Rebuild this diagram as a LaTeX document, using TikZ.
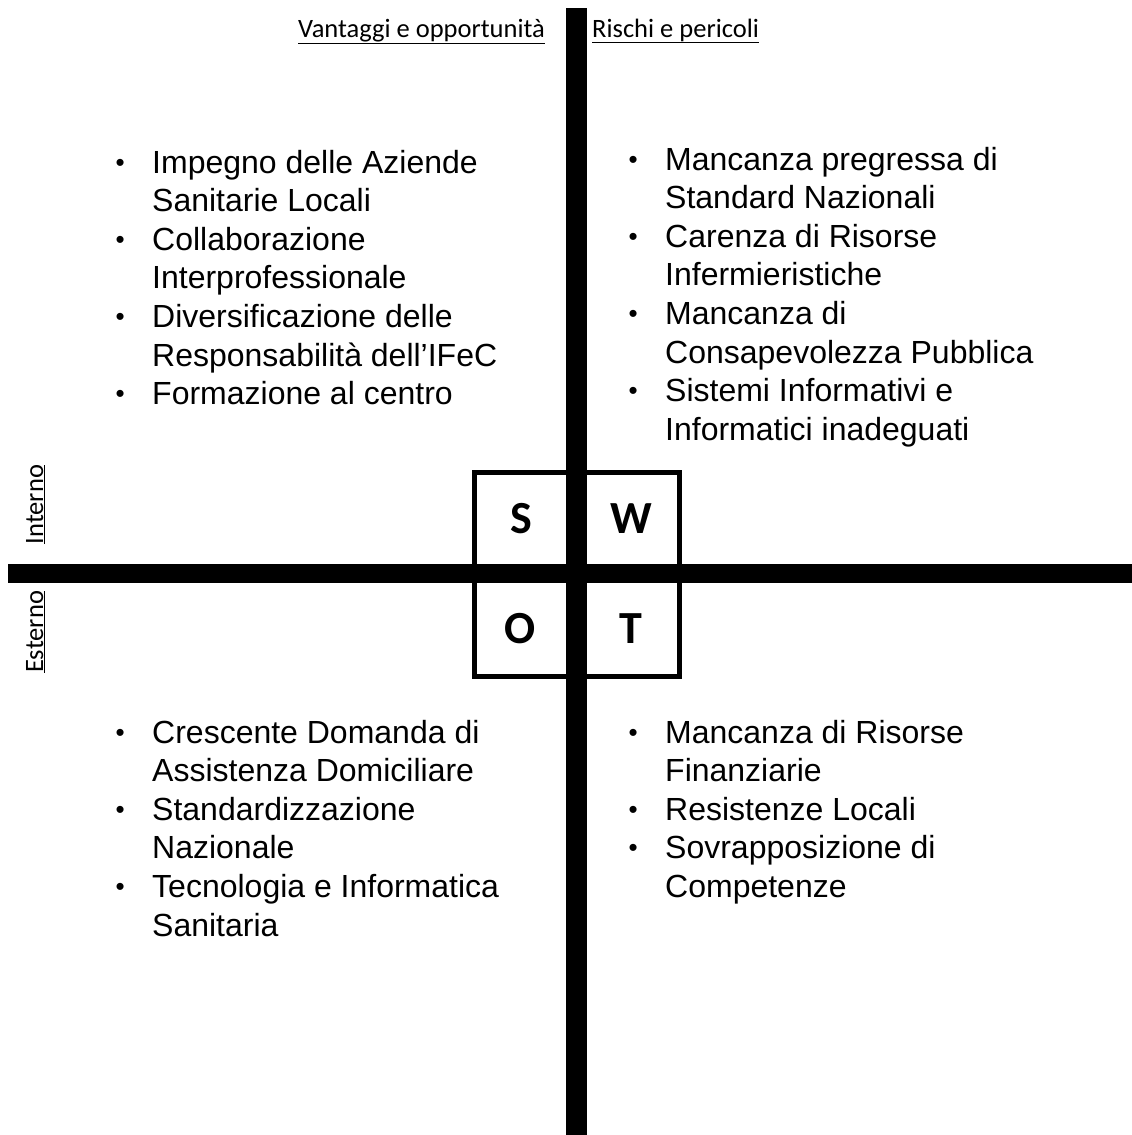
\documentclass[tikz,border=0pt]{standalone}
\usepackage{fontspec}
\setmainfont{Liberation Sans}
\newfontfamily\calibrifont{Carlito}
\usetikzlibrary{positioning}

\tikzset{
    bar/.style={fill=black},
    listtext/.style={inner sep=0pt, anchor=base west, font=\fontsize{32}{38.6}\selectfont},
    heading/.style={inner sep=0pt, anchor=base west, font=\calibrifont\fontsize{26.5}{30}\selectfont},
    sidelabel/.style={inner sep=0pt, anchor=base, rotate=90, font=\calibrifont\fontsize{26.5}{30}\selectfont},
    letter/.style={inner sep=0pt, anchor=base, font=\calibrifont\bfseries\fontsize{46}{50}\selectfont}
}

% small bullet, as in the reference
\newcommand{\bul}{\hspace{1pt}\raisebox{2pt}{\fontsize{26}{26}\selectfont\textbullet}}
% bullet list with hanging indent
\newenvironment{swotlist}{\begin{tabular}[t]{@{}p{37.5pt}@{}l@{}}}{\end{tabular}}

\begin{document}
\begin{tikzpicture}[x=1pt,y=-1pt]
\useasboundingbox (0,0) rectangle (1132,1135);

% Box around the four letters
\draw[line width=5pt] (474,472) rectangle (679,676);

% Cross
\fill[bar] (566,8) rectangle (587,1135);
\fill[bar] (8,564) rectangle (1132,583);

% Letters
\node[letter] (s) at (521,533) {S};
\node[letter] (w) at (631,533) {W};
\node[letter] (o) at (520,643) {O};
\node[letter] (t) at (631,643) {T};

% Headings
\node[heading] (vant) at (298,37) {\underline{Vantaggi e opportunità}};
\node[heading] (risc) at (592,37) {\underline{Rischi e pericoli}};
\node[sidelabel] (int) at (43,504.5) {\underline{Interno}};
\node[sidelabel] (est) at (43,632) {\underline{Esterno}};

% Strengths
\node[listtext] (strengths) at (114.5,173) {\begin{swotlist}
\bul & Impegno delle Aziende\\
 & Sanitarie Locali\\
\bul & Collaborazione\\
 & Interprofessionale\\
\bul & Diversificazione delle\\
 & Responsabilità dell’IFeC\\
\bul & Formazione al centro
\end{swotlist}};

% Weaknesses
\node[listtext] (weaknesses) at (627.5,170) {\begin{swotlist}
\bul & Mancanza pregressa di\\
 & Standard Nazionali\\
\bul & Carenza di Risorse\\
 & Infermieristiche\\
\bul & Mancanza di\\
 & Consapevolezza Pubblica\\
\bul & Sistemi Informativi e\\
 & Informatici inadeguati
\end{swotlist}};

% Opportunities
\node[listtext] (opportunities) at (114.5,743) {\begin{swotlist}
\bul & Crescente Domanda di\\
 & Assistenza Domiciliare\\
\bul & Standardizzazione\\
 & Nazionale\\
\bul & Tecnologia e Informatica\\
 & Sanitaria
\end{swotlist}};

% Threats
\node[listtext] (threats) at (627.5,743) {\begin{swotlist}
\bul & Mancanza di Risorse\\
 & Finanziarie\\
\bul & Resistenze Locali\\
\bul & Sovrapposizione di\\
 & Competenze
\end{swotlist}};

\end{tikzpicture}
\end{document}
